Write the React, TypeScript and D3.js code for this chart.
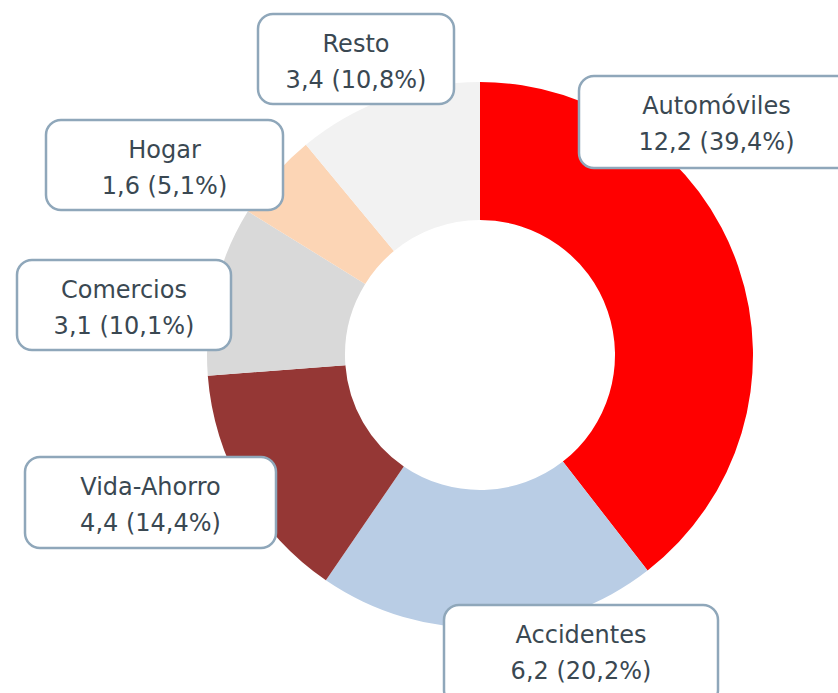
import React from 'react';
import * as d3 from 'd3';

const categories = ['Automóviles', 'Accidentes', 'Vida-Ahorro', 'Comercios', 'Hogar', 'Resto'];
const values = [12.2, 6.2, 4.4, 3.1, 1.6, 3.4];
const percents = ['39,4%', '20,2%', '14,4%', '10,1%', '5,1%', '10,8%'];
const colors = ['#FF0000', '#B9CDE5', '#953735', '#D9D9D9', '#FCD5B5', '#F2F2F2'];

// label boxes: [x, y, w, h]
const boxes: [number, number, number, number][] = [
  [579, 76, 275, 92],
  [444, 605, 274, 100],
  [25, 457, 251, 91],
  [17, 260, 214, 90],
  [46, 120, 237, 90],
  [258, 14, 196, 90],
];

const width = 838;
const height = 693;
const cx = 480;
const cy = 355;
const outerR = 273;
const innerR = 135;

export default function App() {
  const pie = d3.pie<number>().sort(null).value((d) => d);
  const arcs = pie(values);
  const arc = d3.arc<d3.PieArcDatum<number>>().innerRadius(innerR).outerRadius(outerR);
  const fmt = (v: number) => v.toFixed(1).replace('.', ',');

  return (
    <svg width={width} height={height} style={{ position: 'absolute', left: 0, top: 0 }}>
      <g transform={`translate(${cx},${cy})`}>
        {arcs.map((a, i) => (
          <path key={i} d={arc(a) || ''} fill={colors[i]} />
        ))}
      </g>
      {categories.map((c, i) => {
        const [x, y, w, h] = boxes[i];
        const mx = x + w / 2;
        const my = y + 46;
        return (
          <g key={c}>
            <rect x={x} y={y} width={w} height={h} rx={15} ry={15}
              fill="#FFFFFF" stroke="#8FA7BA" strokeWidth={2.5} />
            <text x={mx} y={my - 8} textAnchor="middle" fontFamily="'DejaVu Sans', sans-serif"
              fontSize={24} fill="#3A4852">{c}</text>
            <text x={mx} y={my + 28} textAnchor="middle" fontFamily="'DejaVu Sans', sans-serif"
              fontSize={24} fill="#3A4852">{`${fmt(values[i])} (${percents[i]})`}</text>
          </g>
        );
      })}
    </svg>
  );
}
